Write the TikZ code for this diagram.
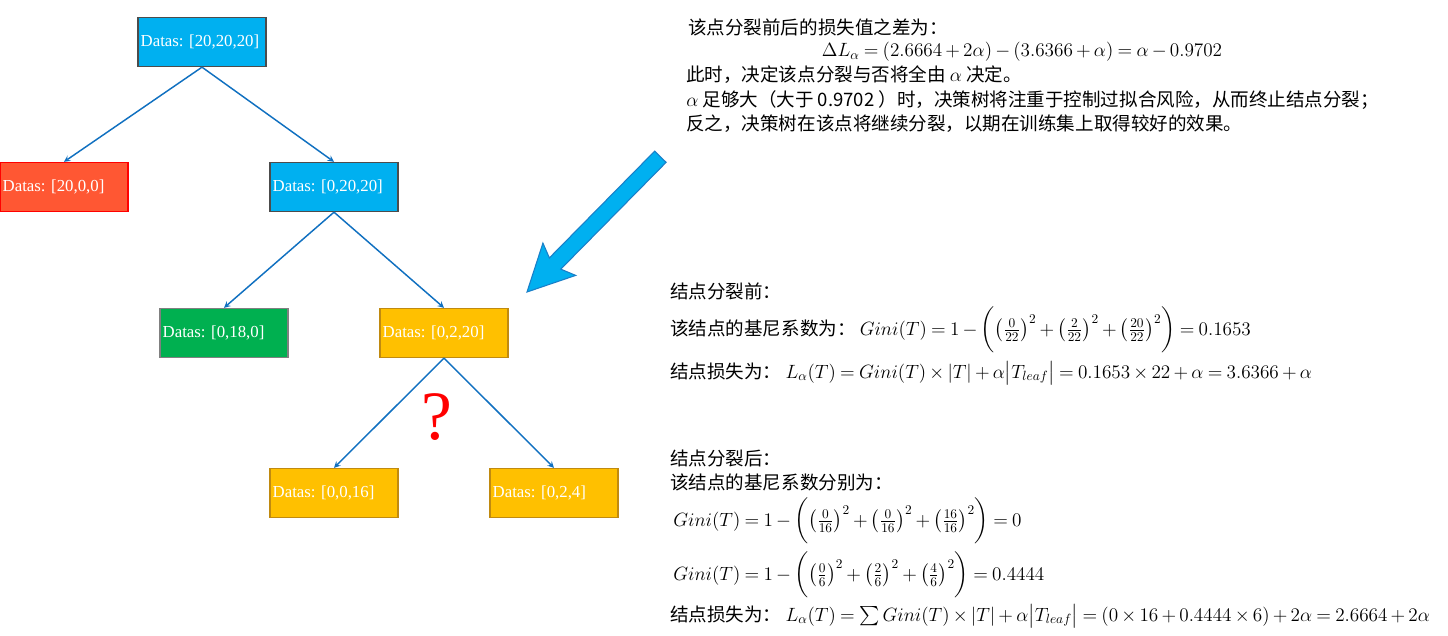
\documentclass[tikz,border=0pt]{standalone}
\usepackage{fontspec}
\usepackage{amsmath}
\setmainfont{Liberation Serif}
\newfontfamily\cjk{Noto Sans CJK SC}
\usetikzlibrary{arrows}
\frenchspacing
\thickmuskip=4mu plus 2mu
\medmuskip=3mu plus 2mu

\definecolor{skyblue}{HTML}{00B0F0}
\definecolor{tomatobox}{HTML}{FF5733}
\definecolor{greenbox}{HTML}{00B050}
\definecolor{goldbox}{HTML}{FFC000}
\definecolor{goldline}{HTML}{C08A10}
\definecolor{linkblue}{HTML}{1070C0}
\definecolor{arrowline}{HTML}{1A7FC8}

\tikzset{
	databox/.style 2 args={
		draw=#2, fill=#1, line width=1pt,
		minimum width=96pt, minimum height=36.75pt,
		text width=92pt, inner xsep=2pt, align=left,
		text=white, font=\fontsize{12.6}{14}\selectfont,
	},
	link/.style={->, >=stealth, draw=linkblue, line width=1.1pt},
	note/.style={anchor=base west, inner sep=0pt, font=\cjk\fontsize{13.9}{17}\selectfont},
}

\begin{document}
\begin{tikzpicture}[x=0.75pt, y=0.75pt]
	\useasboundingbox (0,0) rectangle (1448,-635);
	% tree
	\node[databox={skyblue}{black!70}] (root) at (202,-42) {Datas: [20,20,20]};
	\node[databox={tomatobox}{red}] (leafa) at (64,-187) {Datas: [20,0,0]};
	\node[databox={skyblue}{black!70}] (inner) at (334,-187) {Datas: [0,20,20]};
	\node[databox={greenbox}{black!50}] (leafb) at (224,-333) {Datas: [0,18,0]};
	\node[databox={goldbox}{goldline}] (split) at (444,-333) {Datas: [0,2,20]};
	\node[databox={goldbox}{goldline}] (childa) at (334,-493) {Datas: [0,0,16]};
	\node[databox={goldbox}{goldline}] (childb) at (554,-493) {Datas: [0,2,4]};
	\draw[link] (root.south) -- (leafa.north);
	\draw[link] (root.south) -- (inner.north);
	\draw[link] (inner.south) -- (leafb.north);
	\draw[link] (inner.south) -- (split.north);
	\draw[link] (split.south) -- (childa.north);
	\draw[link] (split.south) -- (childb.north);
	\node[text=red, font=\fontsize{52}{52}\selectfont] (ask) at (437,-417) {?};
	% pointer
	\begin{scope}[shift={(527,-292)}, rotate=45.4]
		\filldraw[fill=skyblue, draw=arrowline, line width=0.8pt]
		(0,0) -- (46,23) -- (40,8) -- (190,8) -- (190,-8) -- (40,-8) -- (46,-23) -- cycle;
	\end{scope}
	% text
	\node[note] (diffhead) at (688,-35) {该点分裂前后的损失值之差为：};
	\node[note, anchor=base] (diffeq) at (1022,-57)
	{$\Delta L_\alpha=(2.6664+2\alpha)-(3.6366+\alpha)=\alpha-0.9702$};
	\node[note] (diffa) at (686,-82) {此时，决定该点分裂与否将全由 $\alpha$ 决定。};
	\node[note] (diffb) at (686,-106) {$\alpha$ 足够大（大于 0.9702 ）时，决策树将注重于控制过拟合风险，从而终止结点分裂；};
	\node[note] (diffc) at (686,-130) {反之，决策树在该点将继续分裂，以期在训练集上取得较好的效果。};
	\node[note] (prehead) at (670,-298) {结点分裂前：};
	\node[note] (pregini) at (670,-335)
	{该结点的基尼系数为：\ $Gini(T)=1-\biggl(\left(\frac{0}{22}\right)^2+\left(\frac{2}{22}\right)^2+\left(\frac{20}{22}\right)^2\biggr)=0.1653$};
	\node[note] (preloss) at (670,-378)
	{结点损失为：\ $L_\alpha(T)=Gini(T)\times|T|+\alpha\bigl|T_{leaf}\bigr|=0.1653\times22+\alpha=3.6366+\alpha$};
	\node[note] (posthead) at (670,-465) {结点分裂后：};
	\node[note] (postsub) at (670,-489) {该结点的基尼系数分别为：};
	\node[note] (postginia) at (673,-526)
	{$Gini(T)=1-\biggl(\left(\frac{0}{16}\right)^2+\left(\frac{0}{16}\right)^2+\left(\frac{16}{16}\right)^2\biggr)=0$};
	\node[note] (postginib) at (673,-580)
	{$Gini(T)=1-\biggl(\left(\frac{0}{6}\right)^2+\left(\frac{2}{6}\right)^2+\left(\frac{4}{6}\right)^2\biggr)=0.4444$};
	\node[note] (postloss) at (670,-621)
	{结点损失为：\ $L_\alpha(T)=\sum Gini(T)\times|T|+\alpha\bigl|T_{leaf}\bigr|=(0\times16+0.4444\times6)+2\alpha=2.6664+2\alpha$};
\end{tikzpicture}
\end{document}
